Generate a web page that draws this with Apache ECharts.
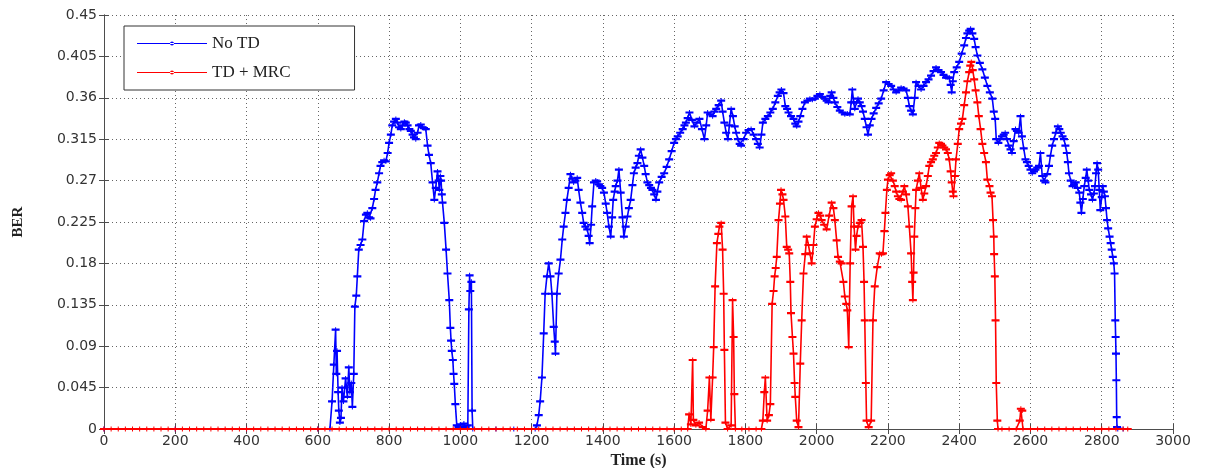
<!DOCTYPE html>
<html>
<head>
<meta charset="utf-8">
<script src="https://cdn.jsdelivr.net/npm/echarts@6/dist/echarts.min.js"></script>
<style>
  body { margin: 0; background: #fff; }
  #chart { width: 1207px; height: 468px; }
</style>
</head>
<body>
<div id="chart"></div>
<script>
// BER over time: [time (s), BER]
const noTd = [
  [0,0],[200,0],[400,0],[600,0],[634,0],[640,0.03],[645,0.07],[650,0.108],[652,0.06],[654,0.085],
  [657,0.04],[659,0.02],[662,0.007],[665,0.012],[668,0.045],[672,0.03],[678,0.055],[683,0.035],[687,0.067],[690,0.04],
  [694,0.05],[697,0.024],[701,0.06],[704,0.133],[708,0.145],[711,0.166],[715,0.195],[720,0.2],[725,0.206],[730,0.226],
  [735,0.233],[739,0.235],[744,0.23],[748,0.229],[753,0.24],[758,0.25],[762,0.26],[767,0.268],[772,0.278],[776,0.286],
  [781,0.29],[786,0.292],[791,0.291],[796,0.3],[800,0.311],[805,0.32],[809,0.33],[814,0.334],[819,0.337],[824,0.333],
  [828,0.328],[833,0.326],[838,0.33],[843,0.334],[847,0.333],[852,0.33],[857,0.326],[861,0.324],[866,0.32],[870,0.317],
  [875,0.315],[880,0.322],[884,0.33],[889,0.331],[894,0.328],[898,0.327],[903,0.326],[908,0.308],[912,0.298],[917,0.289],
  [922,0.268],[927,0.249],[931,0.262],[936,0.28],[939,0.27],[941,0.26],[944,0.275],[946,0.27],[948,0.255],[950,0.246],
  [955,0.224],[960,0.195],[964,0.169],[969,0.14],[972,0.11],[974,0.096],[976,0.085],[979,0.075],[981,0.06],[983,0.049],
  [986,0.027],[990,0.004],[995,0.002],[1000,0.005],[1005,0.003],[1010,0.006],[1015,0.002],[1021,0.004],[1024,0.13],[1026,0.167],
  [1028,0.15],[1031,0.16],[1033,0.02],[1035,0],[1100,0],[1150,0],[1210,0],[1215,0.004],[1220,0.015],[1224,0.03],
  [1229,0.056],[1234,0.104],[1238,0.147],[1243,0.166],[1248,0.18],[1253,0.166],[1257,0.147],[1262,0.111],[1265,0.095],[1267,0.082],
  [1271,0.147],[1276,0.169],[1281,0.184],[1286,0.206],[1290,0.22],[1295,0.235],[1299,0.249],[1304,0.262],[1309,0.277],[1314,0.272],
  [1318,0.268],[1323,0.27],[1328,0.273],[1332,0.26],[1337,0.246],[1342,0.235],[1346,0.224],[1351,0.22],[1356,0.217],[1360,0.21],
  [1363,0.202],[1367,0.222],[1370,0.242],[1375,0.268],[1380,0.27],[1384,0.269],[1389,0.266],[1393,0.264],[1398,0.262],[1403,0.257],
  [1408,0.245],[1412,0.235],[1417,0.22],[1422,0.209],[1426,0.23],[1429,0.249],[1433,0.258],[1436,0.264],[1441,0.27],[1445,0.282],
  [1450,0.257],[1455,0.23],[1459,0.209],[1464,0.22],[1469,0.231],[1473,0.24],[1478,0.249],[1483,0.265],[1487,0.278],[1492,0.284],
  [1497,0.289],[1501,0.297],[1506,0.304],[1511,0.295],[1516,0.286],[1520,0.277],[1525,0.268],[1530,0.265],[1535,0.262],[1539,0.26],
  [1544,0.255],[1549,0.249],[1553,0.258],[1558,0.268],[1565,0.274],[1572,0.278],[1579,0.285],[1586,0.293],[1593,0.302],[1600,0.311],
  [1605,0.315],[1610,0.318],[1617,0.322],[1624,0.326],[1629,0.33],[1633,0.333],[1638,0.338],[1643,0.344],[1650,0.336],[1657,0.329],
  [1664,0.333],[1671,0.337],[1678,0.326],[1685,0.315],[1690,0.33],[1694,0.344],[1701,0.342],[1708,0.34],[1713,0.345],[1718,0.348],
  [1725,0.352],[1732,0.357],[1736,0.345],[1741,0.333],[1746,0.322],[1751,0.315],[1755,0.33],[1760,0.348],[1765,0.34],[1770,0.329],
  [1774,0.322],[1779,0.315],[1784,0.31],[1788,0.308],[1795,0.315],[1802,0.322],[1809,0.325],[1816,0.326],[1823,0.32],[1830,0.315],
  [1835,0.31],[1840,0.306],[1845,0.32],[1849,0.333],[1856,0.337],[1863,0.34],[1870,0.344],[1877,0.348],[1884,0.355],[1891,0.362],
  [1896,0.366],[1901,0.369],[1907,0.365],[1912,0.351],[1917,0.348],[1921,0.344],[1928,0.34],[1935,0.337],[1940,0.332],[1944,0.329],
  [1949,0.334],[1954,0.34],[1960,0.348],[1967,0.355],[1974,0.357],[1981,0.359],[1988,0.358],[1995,0.359],[2002,0.362],[2009,0.364],
  [2016,0.361],[2023,0.359],[2028,0.357],[2033,0.355],[2038,0.362],[2042,0.366],[2047,0.36],[2051,0.355],[2058,0.35],[2065,0.346],
  [2072,0.344],[2079,0.342],[2086,0.343],[2093,0.342],[2097,0.355],[2100,0.369],[2104,0.355],[2107,0.348],[2112,0.355],[2116,0.359],
  [2121,0.355],[2126,0.351],[2130,0.345],[2135,0.337],[2140,0.328],[2144,0.32],[2149,0.33],[2154,0.337],[2160,0.343],[2167,0.349],
  [2174,0.354],[2181,0.359],[2188,0.368],[2195,0.377],[2202,0.375],[2209,0.373],[2216,0.369],[2223,0.366],[2230,0.368],[2237,0.371],
  [2244,0.37],[2251,0.368],[2256,0.36],[2260,0.351],[2265,0.346],[2270,0.342],[2275,0.36],[2279,0.377],[2286,0.373],[2293,0.369],
  [2300,0.373],[2307,0.377],[2314,0.38],[2321,0.384],[2328,0.389],[2335,0.393],[2342,0.39],[2349,0.388],[2356,0.385],[2363,0.382],
  [2368,0.382],[2372,0.382],[2376,0.374],[2379,0.366],[2382,0.378],[2386,0.388],[2393,0.393],[2400,0.399],[2407,0.408],[2414,0.417],
  [2419,0.425],[2423,0.43],[2428,0.433],[2432,0.435],[2437,0.43],[2442,0.424],[2446,0.415],[2451,0.406],[2458,0.398],[2465,0.391],
  [2472,0.382],[2479,0.373],[2486,0.366],[2493,0.359],[2497,0.345],[2501,0.337],[2504,0.315],[2510,0.311],[2515,0.315],[2520,0.318],
  [2525,0.32],[2529,0.322],[2534,0.315],[2539,0.308],[2544,0.304],[2548,0.3],[2553,0.313],[2558,0.326],[2562,0.324],[2567,0.322],
  [2572,0.34],[2576,0.318],[2581,0.305],[2586,0.293],[2590,0.29],[2595,0.286],[2600,0.282],[2605,0.278],[2610,0.28],[2614,0.282],
  [2619,0.284],[2624,0.286],[2628,0.3],[2633,0.275],[2638,0.27],[2642,0.268],[2647,0.277],[2652,0.286],[2656,0.297],[2661,0.308],
  [2666,0.315],[2671,0.322],[2677,0.329],[2681,0.326],[2685,0.322],[2690,0.318],[2694,0.315],[2698,0.308],[2702,0.3],[2705,0.29],
  [2708,0.278],[2713,0.27],[2718,0.264],[2722,0.266],[2727,0.268],[2732,0.262],[2737,0.257],[2740,0.246],[2743,0.235],[2747,0.25],
  [2751,0.264],[2755,0.273],[2758,0.282],[2762,0.27],[2765,0.26],[2770,0.255],[2774,0.249],[2778,0.256],[2781,0.264],[2784,0.278],
  [2787,0.289],[2790,0.282],[2793,0.26],[2796,0.238],[2800,0.252],[2803,0.264],[2806,0.258],[2809,0.253],[2812,0.24],[2815,0.227],
  [2818,0.218],[2822,0.209],[2825,0.202],[2828,0.195],[2831,0.187],[2834,0.18],[2836,0.169],[2838,0.118],[2839,0.1],[2840,0.082],
  [2841,0.053],[2842,0.013],[2843,0.002],[2845,0],[2860,0]
];

const tdMrc = [
  [0,0],[20,0],[40,0],[60,0],[80,0],[100,0],[120,0],[140,0],[160,0],[180,0],
  [200,0],[220,0],[240,0],[260,0],[280,0],[300,0],[320,0],[340,0],[360,0],[380,0],
  [400,0],[420,0],[440,0],[460,0],[480,0],[500,0],[520,0],[540,0],[560,0],[580,0],
  [600,0],[620,0],[640,0],[660,0],[680,0],[700,0],[720,0],[740,0],[760,0],[780,0],
  [800,0],[820,0],[840,0],[860,0],[880,0],[900,0],[920,0],[940,0],[960,0],[980,0],
  [1000,0],[1020,0],[1040,0],[1060,0],[1080,0],[1100,0],[1120,0],[1140,0],[1160,0],[1180,0],
  [1200,0],[1220,0],[1240,0],[1260,0],[1280,0],[1300,0],[1320,0],[1340,0],[1360,0],[1380,0],
  [1400,0],[1420,0],[1440,0],[1460,0],[1480,0],[1500,0],[1520,0],[1540,0],[1560,0],[1580,0],
  [1600,0],[1620,0],[1638,0],[1642,0.016],[1647,0.005],[1652,0.075],[1654,0.01],[1661,0.004],[1670,0.007],[1680,0.002],
  [1689,0],[1694,0.02],[1699,0.056],[1703,0.01],[1708,0.056],[1711,0.089],[1715,0.155],[1720,0.202],[1724,0.212],[1727,0.22],
  [1732,0.224],[1736,0.195],[1739,0.147],[1741,0.086],[1744,0.007],[1750,0],[1760,0.004],[1764,0.14],[1767,0.1],[1769,0.038],
  [1772,0],[1790,0],[1810,0],[1830,0],[1845,0],[1849,0.009],[1853,0.04],[1856,0.056],[1861,0.009],[1866,0.015],
  [1870,0.027],[1875,0.136],[1879,0.15],[1882,0.166],[1885,0.175],[1888,0.187],[1893,0.227],[1897,0.245],[1900,0.26],[1904,0.255],
  [1907,0.249],[1912,0.231],[1916,0.198],[1920,0.195],[1923,0.191],[1926,0.16],[1928,0.126],[1932,0.1],[1935,0.082],[1938,0.05],
  [1940,0.035],[1944,0.009],[1949,0.002],[1954,0.071],[1958,0.118],[1963,0.169],[1968,0.19],[1972,0.209],[1977,0.2],[1981,0.191],
  [1986,0.18],[1991,0.2],[1995,0.22],[2000,0.228],[2005,0.235],[2010,0.232],[2014,0.227],[2021,0.222],[2028,0.217],[2035,0.232],
  [2042,0.246],[2047,0.24],[2051,0.227],[2056,0.205],[2060,0.187],[2065,0.182],[2070,0.18],[2075,0.16],[2079,0.144],[2083,0.136],
  [2086,0.129],[2090,0.089],[2094,0.18],[2098,0.242],[2102,0.253],[2105,0.22],[2109,0.195],[2112,0.21],[2116,0.22],[2121,0.224],
  [2126,0.227],[2130,0.198],[2133,0.16],[2135,0.118],[2138,0.05],[2140,0.009],[2146,0.002],[2153,0.009],[2158,0.118],[2163,0.155],
  [2170,0.176],[2177,0.191],[2182,0.19],[2186,0.191],[2190,0.215],[2193,0.235],[2197,0.26],[2200,0.271],[2205,0.276],[2209,0.278],
  [2214,0.27],[2219,0.264],[2223,0.258],[2228,0.253],[2232,0.25],[2237,0.249],[2242,0.258],[2246,0.264],[2251,0.255],[2256,0.242],
  [2260,0.22],[2265,0.191],[2268,0.16],[2270,0.14],[2272,0.17],[2274,0.209],[2277,0.24],[2279,0.26],[2284,0.27],[2288,0.278],
  [2293,0.262],[2298,0.249],[2302,0.256],[2307,0.264],[2312,0.275],[2316,0.286],[2321,0.29],[2326,0.293],[2330,0.297],[2335,0.3],
  [2340,0.306],[2344,0.311],[2349,0.31],[2353,0.308],[2358,0.306],[2363,0.304],[2368,0.3],[2372,0.293],[2376,0.28],[2379,0.268],
  [2382,0.258],[2384,0.253],[2388,0.275],[2391,0.293],[2396,0.31],[2400,0.326],[2405,0.332],[2409,0.337],[2414,0.352],[2419,0.366],
  [2423,0.378],[2428,0.388],[2431,0.395],[2434,0.399],[2438,0.39],[2442,0.38],[2446,0.368],[2451,0.355],[2455,0.34],[2460,0.326],
  [2465,0.31],[2470,0.3],[2475,0.29],[2479,0.271],[2485,0.264],[2488,0.257],[2492,0.253],[2495,0.227],[2497,0.209],[2498,0.19],
  [2500,0.166],[2502,0.118],[2504,0.05],[2507,0.009],[2509,0],[2520,0],[2540,0],[2560,0],[2570,0.009],[2573,0.022],
  [2577,0.02],[2579,0],[2600,0],[2620,0],[2640,0],[2660,0],[2680,0],[2700,0],[2720,0],[2740,0],
  [2760,0],[2780,0],[2800,0],[2820,0],[2840,0],[2860,0],[2873,0]
];

const yTickLabels = ['0', '0.045', '0.09', '0.135', '0.18', '0.225', '0.27', '0.315', '0.36', '0.405', '0.45'];

// wide flat "+" marker like the smeared matlab markers
const plusMark = 'path://M0,1.4 H8 V3.6 H0 Z M3.5,0 H4.5 V5 H3.5 Z';
const legendMark = 'path://M0,3.5 H70 V4.5 H0 Z M33,4 A2,2 0 1,0 37,4 A2,2 0 1,0 33,4 Z';
const frameColor = '#4d4d4d';
const serif = '"Liberation Serif", "DejaVu Serif", serif';
const sans = '"DejaVu Sans", sans-serif';

const chart = echarts.init(document.getElementById('chart'));

const frameAxis = {
  axisLine: { show: true, lineStyle: { color: frameColor, width: 1 } },
  axisTick: { show: true, inside: true, length: 5, lineStyle: { color: frameColor } },
};

chart.setOption({
  animation: false,
  backgroundColor: '#fff',
  grid: { left: 104, right: 34, top: 15, bottom: 39, containLabel: false, outerBoundsMode: 'none' },
  legend: {
    orient: 'vertical',
    left: 124,
    top: 26,
    padding: [9, 64, 9, 13],
    itemGap: 12,
    itemWidth: 70,
    itemHeight: 8,
    backgroundColor: '#fff',
    borderColor: '#333',
    borderWidth: 1,
    textStyle: { fontFamily: serif, fontSize: 17, color: '#222' },
    data: [
      { name: 'No TD', icon: legendMark },
      { name: 'TD + MRC', icon: legendMark },
    ],
  },
  xAxis: [
    {
      type: 'value', min: 0, max: 3000, interval: 200,
      name: 'Time (s)', nameLocation: 'middle', nameGap: 21,
      nameTextStyle: { fontFamily: serif, fontSize: 16, fontWeight: 'bold', color: '#222' },
      ...frameAxis,
      axisLabel: { fontFamily: sans, fontSize: 14, color: '#333', margin: 5, formatter: (v) => String(v) },
      splitLine: { show: true, lineStyle: { type: [1, 3], color: '#666' } },
    },
    {
      type: 'value', min: 0, max: 3000, interval: 200, position: 'top',
      ...frameAxis,
      axisLabel: { show: false },
      splitLine: { show: false },
    },
  ],
  yAxis: [
    {
      type: 'value', min: 0, max: 0.45, interval: 0.045,
      name: 'BER', nameLocation: 'middle', nameGap: 78,
      nameTextStyle: { fontFamily: serif, fontSize: 15, fontWeight: 'bold', color: '#222' },
      ...frameAxis,
      axisLabel: {
        fontFamily: sans, fontSize: 14, color: '#333', margin: 7,
        formatter: (v) => yTickLabels[Math.round(v / 0.045)],
      },
      splitLine: { show: true, lineStyle: { type: [1, 3], color: '#666' } },
    },
    {
      type: 'value', min: 0, max: 0.45, interval: 0.045, position: 'right',
      ...frameAxis,
      axisLabel: { show: false },
      splitLine: { show: false },
    },
  ],
  series: [
    {
      name: 'No TD', type: 'line', data: noTd,
      symbol: plusMark, symbolSize: [8, 5], showSymbol: true,
      itemStyle: { color: '#0000ff' },
      lineStyle: { color: '#0000ff', width: 1.6 },
    },
    {
      name: 'TD + MRC', type: 'line', data: tdMrc,
      symbol: plusMark, symbolSize: [8, 5], showSymbol: true,
      itemStyle: { color: '#ff0000' },
      lineStyle: { color: '#ff0000', width: 1.6 },
    },
  ],
});
</script>
</body>
</html>
